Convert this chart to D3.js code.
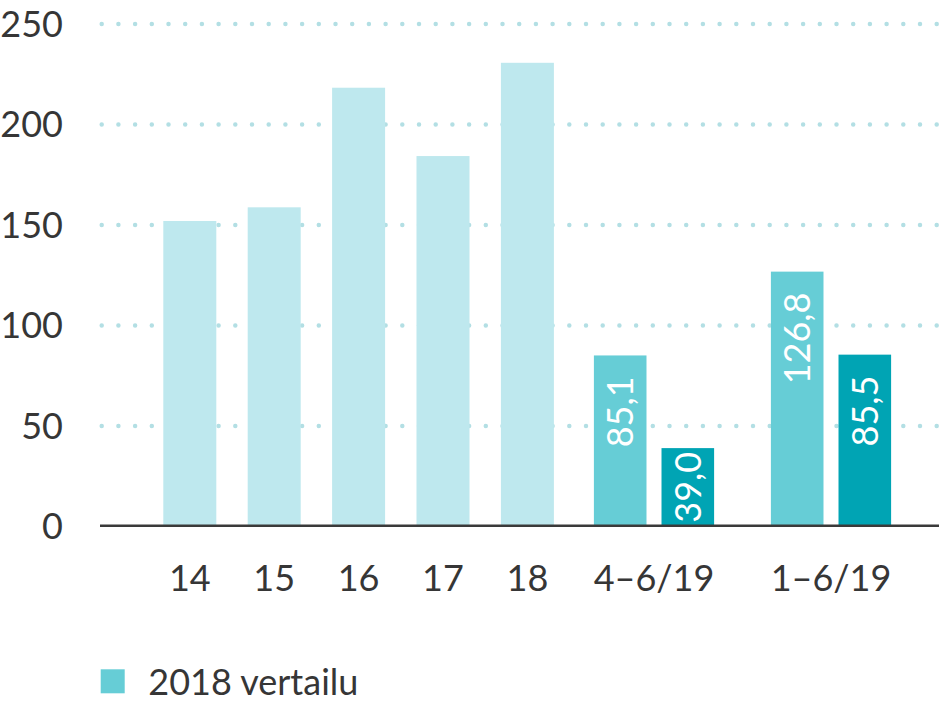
<!DOCTYPE html>
<html>
<head>
<meta charset="utf-8">
<script src="https://cdn.jsdelivr.net/npm/d3@7"></script>
<style>
  html, body { margin: 0; padding: 0; background: #ffffff; }
  svg text { font-family: Lato, "Open Sans", sans-serif; }
</style>
</head>
<body>
<svg id="chart" width="939" height="702"></svg>
<script>
// ---- data ----
const years = ['14', '15', '16', '17', '18'];
const annualValues = [152.0, 158.8, 218.3, 184.3, 230.7];
const periods = ['4–6/19', '1–6/19'];
const series = ['2018', '2019'];
const values2018 = [85.1, 126.8];
const values2019 = [39.0, 85.5];
const yTicks = [0, 50, 100, 150, 200, 250];
const legendLabel = '2018 vertailu';

// ---- style ----
const colLight = '#bee8ee';
const colMid = '#66cdd6';
const colDark = '#00a4b4';
const textCol = '#363636';
const fontSize = 36;

const svg = d3.select('#chart');

const y = d3.scaleLinear().domain([0, 250]).range([526.5, 24]);

const xYear = d3.scaleBand().domain(years).range([147.6, 569.6])
  .paddingInner(0.372).paddingOuter(0.186);
const xPeriod = d3.scaleBand().domain(periods).range([565.5, 919.5]).padding(0);
const xSeries = d3.scaleBand().domain(series).range([0, xPeriod.bandwidth()])
  .paddingInner(0.222).paddingOuter(0.42);

// gridlines (dotted)
svg.append('g').selectAll('line').data(yTicks.filter(d => d > 0)).join('line')
  .attr('x1', 101.7).attr('x2', 939)
  .attr('y1', d => y(d)).attr('y2', d => y(d))
  .attr('stroke', '#b3dfe4')
  .attr('stroke-width', 4.5)
  .attr('stroke-linecap', 'round')
  .attr('stroke-dasharray', '0 16.7');

// y-axis labels
svg.append('g').selectAll('text').data(yTicks).join('text')
  .attr('x', 63).attr('y', d => y(d))
  .attr('dy', '0.36em')
  .attr('text-anchor', 'end')
  .attr('fill', textCol)
  .attr('font-size', fontSize)
  .text(d => d);

// annual bars
const annual = years.map((k, i) => ({ k, v: annualValues[i] }));
svg.append('g').selectAll('rect').data(annual).join('rect')
  .attr('x', d => xYear(d.k))
  .attr('width', xYear.bandwidth())
  .attr('y', d => y(d.v))
  .attr('height', d => y(0) - y(d.v))
  .attr('fill', colLight);

// period bars
const grouped = [];
periods.forEach((p, i) => {
  grouped.push({ p, s: '2018', v: values2018[i], c: colMid });
  grouped.push({ p, s: '2019', v: values2019[i], c: colDark });
});
const gp = svg.append('g');
gp.selectAll('rect').data(grouped).join('rect')
  .attr('x', d => xPeriod(d.p) + xSeries(d.s))
  .attr('width', xSeries.bandwidth())
  .attr('y', d => y(d.v))
  .attr('height', d => y(0) - y(d.v))
  .attr('fill', d => d.c);

// value labels (rotated, white)
gp.selectAll('text').data(grouped).join('text')
  .attr('fill', '#ffffff')
  .attr('font-size', fontSize)
  .attr('text-anchor', 'end')
  .attr('dy', '0.36em')
  .text(d => d3.format('.1f')(d.v).replace('.', ','))
  .each(function (d) {
    const len = this.getComputedTextLength();
    const h = y(0) - y(d.v);
    const pad = Math.min(21, (h - len) / 2);
    const cx = xPeriod(d.p) + xSeries(d.s) + xSeries.bandwidth() / 2;
    const top = y(d.v) + pad;
    d3.select(this).attr('transform', `translate(${cx},${top}) rotate(-90)`);
  });

// baseline
svg.append('line')
  .attr('x1', 100).attr('x2', 939)
  .attr('y1', y(0) - 0.8).attr('y2', y(0) - 0.8)
  .attr('stroke', '#3a3a3a').attr('stroke-width', 2.4);

// x labels
svg.append('g').selectAll('text').data(years).join('text')
  .attr('x', d => xYear(d) + xYear.bandwidth() / 2)
  .attr('y', 591)
  .attr('text-anchor', 'middle')
  .attr('fill', textCol)
  .attr('font-size', fontSize)
  .text(d => d);
svg.append('g').selectAll('text').data(periods).join('text')
  .attr('x', d => xPeriod(d) + xPeriod.bandwidth() / 2)
  .attr('y', 591)
  .attr('text-anchor', 'middle')
  .attr('fill', textCol)
  .attr('font-size', fontSize)
  .text(d => d);

// legend
const lg = svg.append('g').attr('transform', 'translate(100.7,669.3)');
lg.append('rect').attr('width', 24).attr('height', 24).attr('fill', colMid);
lg.append('text').attr('x', 47.6).attr('y', 25.5)
  .attr('fill', textCol).attr('font-size', fontSize)
  .text(legendLabel);
</script>
</body>
</html>
